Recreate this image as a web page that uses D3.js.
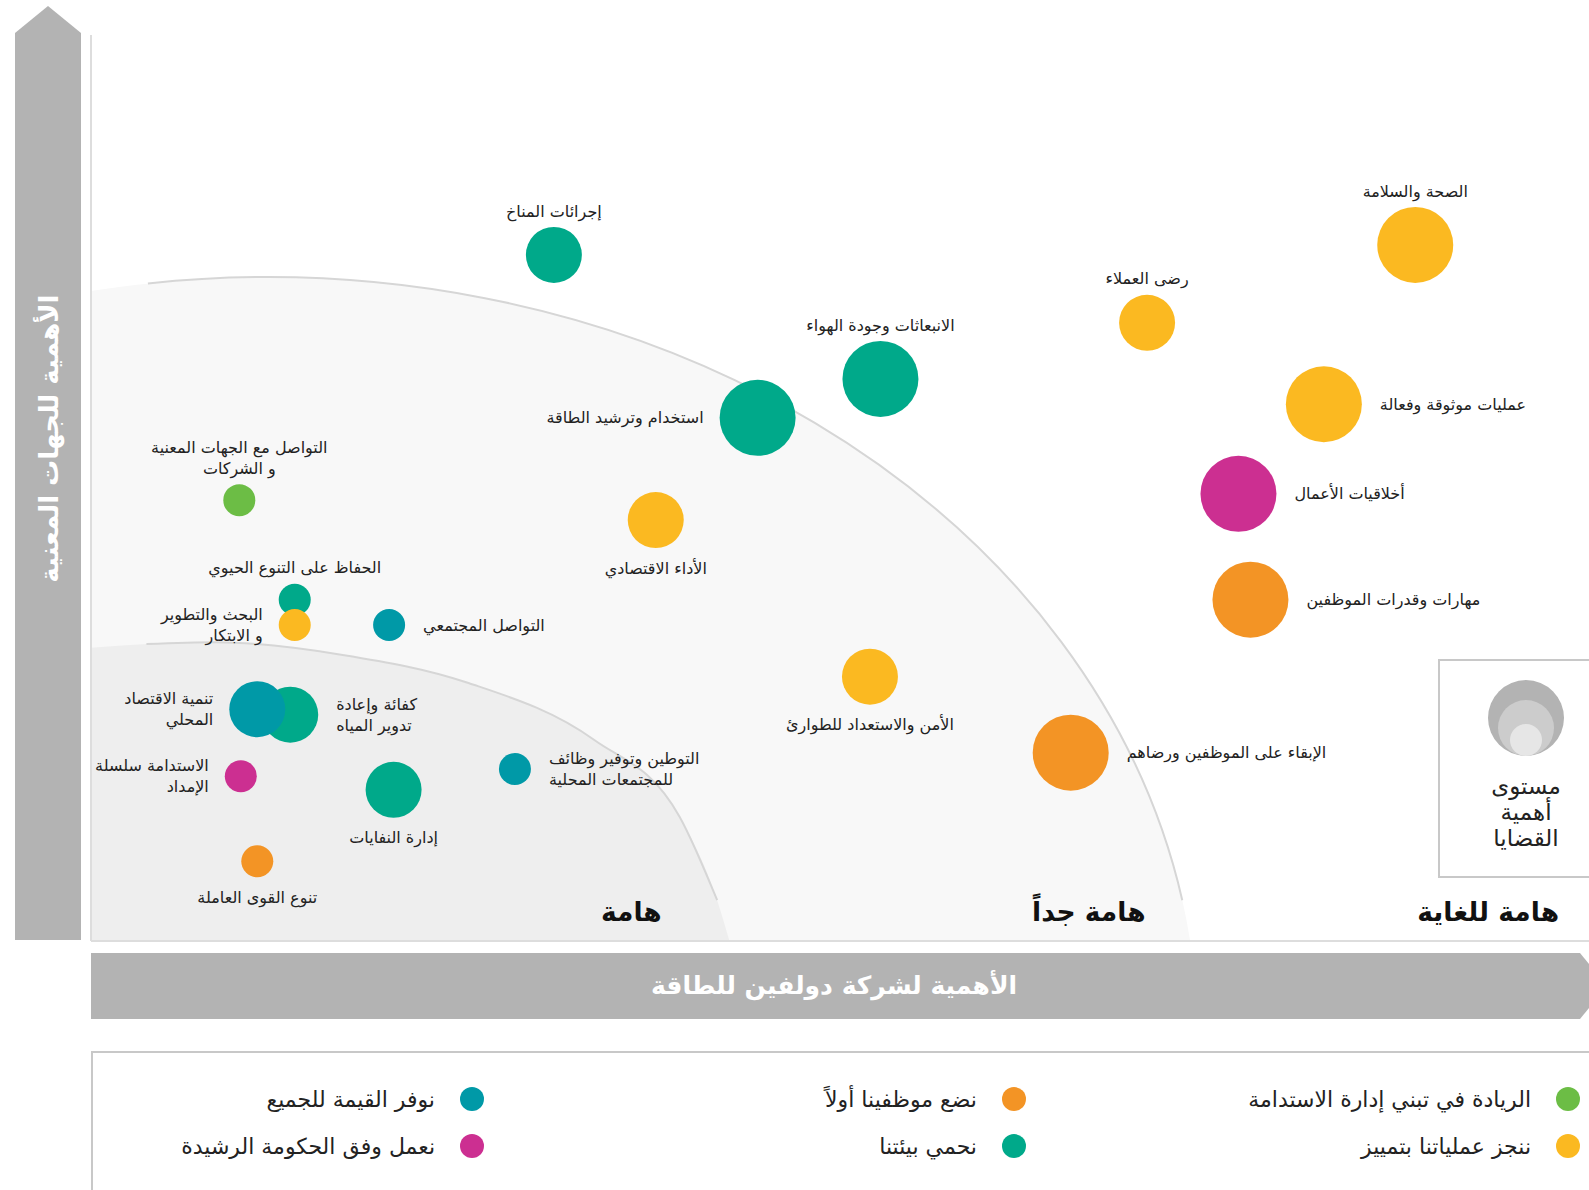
<!DOCTYPE html>
<html lang="ar">
<head>
<meta charset="utf-8">
<script src="https://cdn.jsdelivr.net/npm/d3@7"></script>
<style>
  body { margin: 0; background: #fff; }
  svg { display: block; font-family: "DejaVu Sans", sans-serif; }
</style>
</head>
<body>
<svg id="chart" width="1589" height="1190"></svg>
<script>
// pillars (legend categories)
const pillars = [
  "الريادة في تبني إدارة الاستدامة",
  "ننجز عملياتنا بتمييز",
  "نضع موظفينا أولاً",
  "نحمي بيئتنا",
  "نوفر القيمة للجميع",
  "نعمل وفق الحكومة الرشيدة",
];
const pillarColors = ["#6cbd45", "#fbb921", "#f39425", "#00a98a", "#0099a7", "#cc2f91"];

// material issues
const issueNames = [
  "إجرائات المناخ",
  "الانبعاثات وجودة الهواء",
  "استخدام وترشيد الطاقة",
  "الأداء الاقتصادي",
  "الصحة والسلامة",
  "رضى العملاء",
  "عمليات موثوقة وفعالة",
  "أخلاقيات الأعمال",
  "مهارات وقدرات الموظفين",
  "الأمن والاستعداد للطوارئ",
  "الإبقاء على الموظفين ورضاهم",
  "التواصل مع الجهات المعنية\nو الشركات",
  "الحفاظ على التنوع الحيوي",
  "البحث والتطوير\nو الابتكار",
  "التواصل المجتمعي",
  "كفائة وإعادة\nتدوير المياه",
  "تنمية الاقتصاد\nالمحلي",
  "الاستدامة سلسلة\nالإمداد",
  "إدارة النفايات",
  "التوطين وتوفير وظائف\nللمجتمعات المحلية",
  "تنوع القوى العاملة",
];
const issuePillar = [3, 3, 3, 1, 1, 1, 1, 5, 2, 1, 2, 0, 3, 1, 4, 3, 4, 5, 3, 4, 2];
// importance to Dolphin Energy (x) and to stakeholders (y), 0-100
const xValues = [30.9, 52.7, 44.5, 37.7, 88.4, 70.5, 82.3, 76.6, 77.4, 52.0, 65.4, 9.9, 13.6, 13.6, 19.9, 13.3, 11.1, 10.0, 20.2, 28.3, 11.1];
const yValues = [75.7, 62.0, 57.7, 46.4, 76.8, 68.2, 59.2, 49.3, 37.6, 29.1, 20.7, 48.6, 37.6, 34.8, 34.8, 24.9, 25.5, 18.1, 16.6, 18.9, 8.7];
// issue level: 1 small, 2 medium, 3 large
const levels = [2, 3, 3, 2, 3, 2, 3, 3, 3, 2, 3, 1, 1, 1, 1, 2, 2, 1, 2, 1, 1];

// where each label sits around its bubble
const labelSide = ["top", "top", "left", "bottom", "top", "top", "right", "right", "right", "bottom", "right",
  "top", "top", "left", "right", "right", "left", "left", "bottom", "right", "bottom"];

// zones
const zoneNames = ["هامة", "هامة جداً", "هامة للغاية"];
const zoneLabelX = [38.1, 70.4, 98.0];
const innerZone = [[0, 32.3], [3.7, 32.7], [8.3, 32.9], [16.8, 31.5], [25.2, 28.4], [33.6, 22.1], [39.3, 13.6], [41.8, 4.4], [42.6, 0]];
// outer zone edge is an ellipse (data units)
const outerEllipse = { cx: 11.8, cy: -11.05, rx: 62.1, ry: 84.3 };

const levelTitle = ["مستوى", "أهمية", "القضايا"];
const xTitle = "الأهمية لشركة دولفين للطاقة";
const yTitle = "الأهمية للجهات المعنية";

const svg = d3.select("#chart");

const x = d3.scaleLinear().domain([0, 100]).range([91, 1589]);
const y = d3.scaleLinear().domain([0, 100]).range([940, 35]);
const r = d3.scaleOrdinal().domain([1, 2, 3]).range([16, 28, 38]);
const color = d3.scaleOrdinal().domain(pillars).range(pillarColors);

const issues = issueNames.map((name, i) => ({
  name: name,
  pillar: pillars[issuePillar[i]],
  x: xValues[i],
  y: yValues[i],
  level: levels[i],
  side: labelSide[i],
}));

// zone backgrounds
function ellY(e, xv) {
  const t = (xv - e.cx) / e.rx;
  return e.cy + e.ry * Math.sqrt(1 - t * t);
}
function ellX(e, yv) {
  const t = (yv - e.cy) / e.ry;
  return e.cx + e.rx * Math.sqrt(1 - t * t);
}
const e = outerEllipse;
const erx = x(e.rx) - x(0);
const ery = y(0) - y(e.ry);
const outerFill = "M" + x(0) + "," + y(0) +
  "L" + x(0) + "," + y(ellY(e, 0)) +
  "A" + erx + "," + ery + " 0 0 1 " + x(ellX(e, 0)) + "," + y(0) + "Z";
const outerEdge = "M" + x(3.8) + "," + y(ellY(e, 3.8)) +
  "A" + erx + "," + ery + " 0 0 1 " + x(ellX(e, 4.4)) + "," + y(4.4);

const area = d3.area()
  .x(d => x(d[0]))
  .y0(y(0))
  .y1(d => y(d[1]))
  .curve(d3.curveMonotoneX);
const line = d3.line()
  .x(d => x(d[0]))
  .y(d => y(d[1]))
  .curve(d3.curveMonotoneX);

svg.append("path").attr("d", outerFill).attr("fill", "#f8f8f8");
svg.append("path").attr("d", area(innerZone)).attr("fill", "#eeeeee");
[outerEdge, line(innerZone.slice(1, -1))].forEach(p => {
  svg.append("path")
    .attr("d", p)
    .attr("fill", "none")
    .attr("stroke", "#d6d6d6")
    .attr("stroke-width", 2);
});

// frame
svg.append("line")
  .attr("x1", x(0)).attr("x2", x(0))
  .attr("y1", y(100)).attr("y2", y(0) + 1)
  .attr("stroke", "#dddddd").attr("stroke-width", 2);
svg.append("line")
  .attr("x1", x(0)).attr("x2", x(100))
  .attr("y1", y(0) + 1).attr("y2", y(0) + 1)
  .attr("stroke", "#dddddd").attr("stroke-width", 2);

// zone names
svg.selectAll("text.zone")
  .data(zoneNames)
  .join("text")
  .attr("class", "zone")
  .attr("x", (d, i) => x(zoneLabelX[i]))
  .attr("y", y(0) - 19)
  .attr("text-anchor", "end")
  .attr("font-size", 26.5)
  .attr("font-weight", "bold")
  .attr("fill", "#111")
  .text(d => d);

// axis arrows
svg.append("polygon")
  .attr("points", [[15, y(0)], [15, 33], [48, 6], [81, 33], [81, y(0)]].join(" "))
  .attr("fill", "#b3b3b3");
svg.append("polygon")
  .attr("points", [[x(0), 953], [1580, 953], [1607, 986], [1580, 1019], [x(0), 1019]].join(" "))
  .attr("fill", "#b3b3b3");

svg.append("text")
  .attr("transform", "translate(58," + y(55.4) + ") rotate(-90)")
  .attr("text-anchor", "middle")
  .attr("font-size", 26)
  .attr("font-weight", "bold")
  .attr("fill", "#fff")
  .text(yTitle);
svg.append("text")
  .attr("x", 834)
  .attr("y", 994)
  .attr("text-anchor", "middle")
  .attr("font-size", 25)
  .attr("font-weight", "bold")
  .attr("fill", "#fff")
  .text(xTitle);

// bubbles
svg.selectAll("circle.issue")
  .data(issues)
  .join("circle")
  .attr("class", "issue")
  .attr("cx", d => x(d.x))
  .attr("cy", d => y(d.y))
  .attr("r", d => r(d.level))
  .attr("fill", d => color(d.pillar));

// labels
const fs = 16;
const lh = 21;
issues.forEach(d => {
  const lines = d.name.split("\n");
  const n = lines.length;
  const cx = x(d.x), cy = y(d.y), rad = r(d.level);
  let tx, anchor, firstCenter;
  if (d.side === "top") {
    tx = cx; anchor = "middle"; firstCenter = cy - rad - 16 - (n - 1) * lh;
  } else if (d.side === "bottom") {
    tx = cx; anchor = "middle"; firstCenter = cy + rad + 20;
  } else if (d.side === "right") {
    tx = cx + rad + 18; anchor = "start"; firstCenter = cy - (n - 1) * lh / 2;
  } else {
    tx = cx - rad - 16; anchor = "end"; firstCenter = cy - (n - 1) * lh / 2;
  }
  const t = svg.append("text")
    .attr("text-anchor", anchor)
    .attr("font-size", fs)
    .attr("fill", "#222");
  lines.forEach((s, i) => {
    t.append("tspan")
      .attr("x", tx)
      .attr("y", firstCenter + i * lh + fs * 0.35)
      .text(s);
  });
});

// size legend
const sizeBox = svg.append("g").attr("transform", "translate(1439,660)");
sizeBox.append("rect")
  .attr("width", 200).attr("height", 217)
  .attr("fill", "#fff").attr("stroke", "#c8c8c8").attr("stroke-width", 2);
const sizeGrays = ["#e6e6e6", "#cccccc", "#b3b3b3"];
sizeBox.selectAll("circle")
  .data([3, 2, 1])
  .join("circle")
  .attr("cx", 87)
  .attr("cy", d => 96 - r(d))
  .attr("r", d => r(d))
  .attr("fill", d => sizeGrays[d - 1]);
sizeBox.selectAll("text")
  .data(levelTitle)
  .join("text")
  .attr("x", 87)
  .attr("y", (d, i) => 134 + i * 26)
  .attr("text-anchor", "middle")
  .attr("font-size", 23)
  .attr("fill", "#222")
  .text(d => d);

// pillar legend
svg.append("rect")
  .attr("x", 92).attr("y", 1052)
  .attr("width", 1600).attr("height", 200)
  .attr("fill", "#fff").attr("stroke", "#c8c8c8").attr("stroke-width", 2);
const legendColX = [1568, 1014, 472];
const legendRowY = [1099, 1146];
const leg = svg.selectAll("g.leg")
  .data(pillars)
  .join("g")
  .attr("class", "leg")
  .attr("transform", (d, i) => "translate(" + legendColX[Math.floor(i / 2)] + "," + legendRowY[i % 2] + ")");
leg.append("circle").attr("r", 12).attr("fill", d => color(d));
leg.append("text")
  .attr("x", -37)
  .attr("y", 8)
  .attr("text-anchor", "end")
  .attr("font-size", 22)
  .attr("fill", "#222")
  .text(d => d);
</script>
</body>
</html>
